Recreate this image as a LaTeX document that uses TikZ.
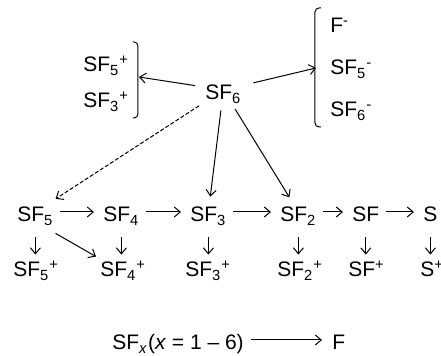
\documentclass[tikz,border=0pt]{standalone}
\usepackage{fontspec}
\setmainfont{Liberation Sans}
\usetikzlibrary{arrows.meta}
\newcommand{\chemfont}{\fontsize{10.5}{12}\selectfont}

\begin{document}
\begin{tikzpicture}[
    x=0.5pt, y=-0.5pt,
    chem/.style={font=\chemfont, inner sep=0pt, text height=10pt, text depth=0pt, anchor=base west},
    arr/.style={-{Straight Barb[length=3pt,width=5pt]}, line width=0.5pt},
    harr/.style={arr, shorten <=3pt, shorten >=4.5pt},
    varr/.style={arr, shorten <=7.5pt, shorten >=1pt},
    brk/.style={line width=0.5pt, rounded corners=2pt}
  ]
    \useasboundingbox (0,0) rectangle (441,356);

    % parent molecule and its direct products
    \node[chem] (sf6) at (205,100) {SF\textsubscript{6}};
    \node[chem] (sf5pl) at (83,72) {SF\textsubscript{5}\textsuperscript{+}};
    \node[chem] (sf3pl) at (83,108) {SF\textsubscript{3}\textsuperscript{+}};
    \node[chem] (fm) at (330,33) {F\textsuperscript{-}};
    \node[chem] (sf5m) at (330,75) {SF\textsubscript{5}\textsuperscript{-}};
    \node[chem] (sf6m) at (330,117) {SF\textsubscript{6}\textsuperscript{-}};

    % brackets
    \draw[brk] (133,42) -- (138,42) -- (138,118) -- (133,118);
    \draw[brk] (321,8) -- (315,8) -- (315,127) -- (321,127);
    \coordinate (lbr) at (139,77);
    \coordinate (rbr) at (316,68);

    % neutral fragments
    \node[chem] (sf5) at (17,222) {SF\textsubscript{5}};
    \node[chem] (sf4) at (103,222) {SF\textsubscript{4}};
    \node[chem] (sf3) at (190,222) {SF\textsubscript{3}};
    \node[chem] (sf2) at (280,222) {SF\textsubscript{2}};
    \node[chem] (sf) at (352,222) {SF};
    \node[chem] (s) at (423,222) {S};

    % ions
    \node[chem] (sf5p) at (13,277) {SF\textsubscript{5}\textsuperscript{+}};
    \node[chem] (sf4p) at (100,277) {SF\textsubscript{4}\textsuperscript{+}};
    \node[chem] (sf3p) at (185,277) {SF\textsubscript{3}\textsuperscript{+}};
    \node[chem] (sf2p) at (277,277) {SF\textsubscript{2}\textsuperscript{+}};
    \node[chem] (sfp) at (348,277) {SF\textsuperscript{+}};
    \node[chem] (sp) at (420,277) {S\textsuperscript{+}};

    % fluorine release
    \node[chem] (sfx) at (112,350) {SF\textsubscript{\textit{x}}(\textit{x} = 1 -- 6)};
    \node[chem] (f) at (332,350) {F};

    \draw[arr, shorten <=5pt] (sf6) -- (lbr);
    \draw[arr, shorten <=6pt] (sf6) -- (rbr);
    \draw[arr, dashed, dash pattern=on 2pt off 1pt, shorten <=5pt, shorten >=2.5pt] (sf6) -- (sf5);
    \draw[arr, shorten <=5pt, shorten >=2.5pt] (sf6) -- (sf3);
    \draw[arr, shorten <=5pt, shorten >=2.5pt] (sf6) -- (sf2);

    \draw[harr] (sf5) -- (sf4);
    \draw[harr] (sf4) -- (sf3);
    \draw[harr] (sf3) -- (sf2);
    \draw[harr] (sf2) -- (sf);
    \draw[harr] (sf) -- (s);

    \draw[varr] (sf5) -- (sf5 |- sf5p.north);
    \draw[varr] (sf4) -- (sf4 |- sf4p.north);
    \draw[varr] (sf3) -- (sf3 |- sf3p.north);
    \draw[varr] (sf2) -- (sf2 |- sf2p.north);
    \draw[varr] (sf) -- (sf |- sfp.north);
    \draw[varr] (s) -- (s |- sp.north);
    \draw[arr, shorten <=1pt] ([yshift=-5pt]sf5.south east) -- ([xshift=-2pt]sf4p.north west);

    \draw[arr, shorten <=3.5pt, shorten >=5pt] (sfx) -- (f);
  \end{tikzpicture}
\end{document}
